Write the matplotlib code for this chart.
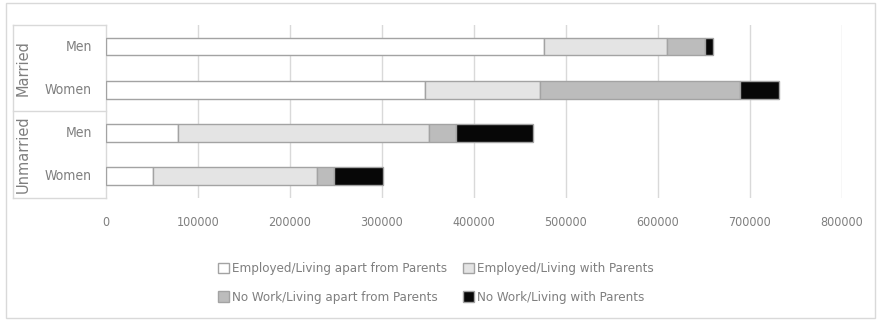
import numpy as np
import matplotlib.pyplot as plt
from matplotlib.patches import Rectangle

# population by marital status / sex, split by work and living arrangement
groups = ['Married', 'Unmarried']
sexes = ['Men', 'Women', 'Men', 'Women']
series = ['Employed/Living apart from Parents', 'Employed/Living with Parents',
          'No Work/Living apart from Parents', 'No Work/Living with Parents']
emp_apart = [476000, 347200, 78000, 50800]
emp_with = [133700, 125100, 272900, 178600]
nowork_apart = [41700, 217500, 29400, 18900]
nowork_with = [8400, 42400, 84000, 53200]
ticks = [0, 100000, 200000, 300000, 400000, 500000, 600000, 700000, 800000]

colors = ['#ffffff', '#e4e4e4', '#bcbcbc', '#070707']
txt = '#7f7f7f'
plt.rcParams['font.family'] = ['DejaVu Sans']
plt.rcParams['font.stretch'] = 'condensed'

fig = plt.figure(figsize=(8.77, 3.21), dpi=100)
ax = fig.add_axes([0.1209, 0.3847, 0.8389, 0.5374])

y = np.arange(len(sexes))
left = np.zeros(len(sexes))
vals = [emp_apart, emp_with, nowork_apart, nowork_with]
handles = []
for v, c, name in zip(vals, colors, series):
    b = ax.barh(y, v, left=left, height=0.41, color=c, edgecolor='#a3a3a3',
                linewidth=1.0, label=name, zorder=3)
    handles.append(b)
    left += np.array(v)

ax.set_ylim(3.5, -0.5)
ax.set_xlim(0, 800000)
ax.set_xticks(ticks)
ax.set_xticklabels([str(t) for t in ticks])
ax.tick_params(axis='x', length=0, pad=13, labelsize=9, labelcolor=txt)
ax.set_yticks([])
for s in ax.spines.values():
    s.set_visible(False)
for t in ticks[1:]:
    ax.axvline(t, color='#d9d9d9', lw=1, zorder=1)

# category box on the left
bx = -0.126
for yy in [0, 0.5, 1]:
    ax.plot([bx, 0], [yy, yy], transform=ax.transAxes, color='#d9d9d9',
            lw=1, clip_on=False)
for xx in [bx, 0]:
    ax.plot([xx, xx], [0, 1], transform=ax.transAxes, color='#d9d9d9',
            lw=1, clip_on=False)
for i, s in enumerate(sexes):
    ax.text(-0.019, i, s, transform=ax.get_yaxis_transform(), ha='right',
            va='center', fontsize=10, color=txt)
for g, yy in zip(groups, [0.75, 0.25]):
    ax.text(-0.113, yy, g, transform=ax.transAxes, rotation=90, ha='center',
            va='center', fontsize=10.5, color=txt, fontstretch='normal')

order = [handles[0], handles[2], handles[1], handles[3]]
leg = fig.legend(order, [h.get_label() for h in order], ncol=2,
                 loc='center', bbox_to_anchor=(0.497, 0.118), frameon=False,
                 fontsize=9.5, handlelength=0.8, handleheight=0.8,
                 handletextpad=0.25, columnspacing=1.2, labelspacing=1.2)
for t in leg.get_texts():
    t.set_color(txt)

fig.patches.append(Rectangle((6 / 877, 3 / 321), 869 / 877, 315 / 321,
                             transform=fig.transFigure, fill=False,
                             edgecolor='#d9d9d9', lw=1))

fig.savefig('out.png', dpi=100)
